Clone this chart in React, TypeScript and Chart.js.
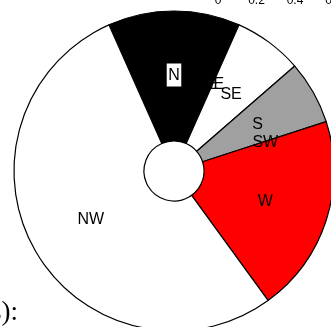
import React, { useEffect, useRef } from "react";
import { Chart, registerables } from "chart.js";

Chart.register(...registerables);

// Wind-direction slices (clockwise from north), shares in degrees of the circle
const directions = ["N", "NE", "E", "SE", "S", "SW", "W", "NW"];
const shares = [48, 0, 0, 25, 23, 0, 72, 192];
const sliceColors = ["#000000", "#ffffff", "#ffffff", "#ffffff", "#a0a0a0", "#a0a0a0", "#ff0000", "#ffffff"];

// cropped fragments of surrounding figure
const topTicks = ["0", "0.2", "0.4", "0.6"];
const captionTail = "s):";

const labelPlugin = {
  id: "sliceLabels",
  afterDatasetsDraw(chart: any) {
    const ctx = chart.ctx as CanvasRenderingContext2D;
    const meta = chart.getDatasetMeta(0);
    ctx.save();
    ctx.font = '16px "Liberation Sans", Arial, sans-serif';
    ctx.textAlign = "center";
    ctx.textBaseline = "middle";
    meta.data.forEach((arc: any, i: number) => {
      const p = arc.getProps(["x", "y", "startAngle", "endAngle", "outerRadius"], true);
      const mid = (p.startAngle + p.endAngle) / 2;
      const r = p.outerRadius * 0.6;
      const lx = p.x + r * Math.cos(mid);
      const ly = p.y + r * Math.sin(mid);
      const text = directions[i];
      if (sliceColors[i] === "#000000") {
        const w = ctx.measureText(text).width + 3;
        ctx.fillStyle = "#ffffff";
        ctx.fillRect(lx - w / 2, ly - 11.5, w, 23);
      }
      ctx.fillStyle = "#000000";
      ctx.fillText(text, lx, ly + 1);
    });
    ctx.restore();
  },
  afterDraw(chart: any) {
    const ctx = chart.ctx as CanvasRenderingContext2D;
    ctx.save();
    ctx.fillStyle = "#000000";
    ctx.font = '12px "Liberation Sans", Arial, sans-serif';
    ctx.textAlign = "center";
    ctx.textBaseline = "alphabetic";
    topTicks.forEach((t) => {
      ctx.fillText(t, 218 + parseFloat(t) * 192.5, 4);
    });
    ctx.font = '27px "Liberation Serif", "DejaVu Serif", serif';
    ctx.textAlign = "right";
    ctx.fillText(captionTail, 18, 320);
    ctx.restore();
  },
};

export default function App() {
  const ref = useRef<HTMLCanvasElement | null>(null);
  useEffect(() => {
    if (!ref.current) return;
    const chart = new Chart(ref.current, {
      type: "doughnut",
      data: {
        labels: directions,
        datasets: [
          {
            data: shares,
            backgroundColor: sliceColors,
            borderColor: "#000000",
            borderWidth: 1.2,
            borderAlign: "center",
          },
        ],
      },
      options: {
        responsive: false,
        maintainAspectRatio: false,
        animation: false,
        rotation: -24,
        radius: 160,
        cutout: 32,
        layout: { padding: 0 },
        plugins: {
          legend: { display: false },
          tooltip: { enabled: false },
        },
      } as any,
      plugins: [labelPlugin],
    });
    return () => chart.destroy();
  }, []);
  return (
    <div
      style={{
        position: "absolute",
        left: 0,
        top: 0,
        width: 331,
        height: 327,
        overflow: "hidden",
        background: "#ffffff",
      }}
    >
      <canvas ref={ref} width={348} height={342} style={{ display: "block" }} />
    </div>
  );
}
